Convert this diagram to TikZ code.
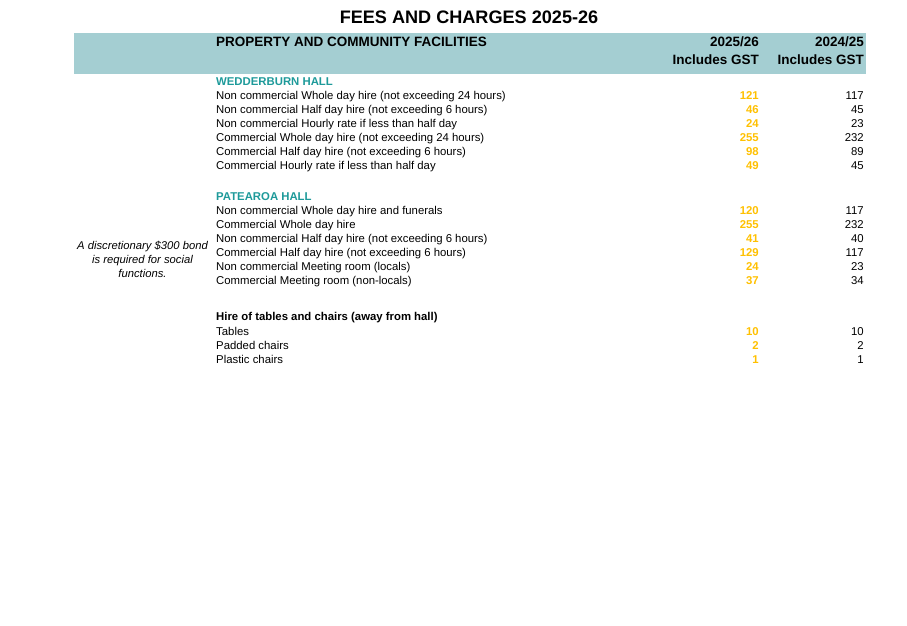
\documentclass[tikz,border=0pt]{standalone}
\usepackage{fontspec}
\setmainfont{Liberation Sans}
\usetikzlibrary{positioning}
\definecolor{bandblue}{HTML}{A4CED2}
\definecolor{hallteal}{HTML}{1E9A9A}
\definecolor{feeyellow}{HTML}{FFC000}

\begin{document}
\begin{tikzpicture}
		[x=1pt,y=-1pt,
		txt/.style ={inner sep=0pt, anchor=base west, font=\fontsize{11.35}{14}\selectfont},
		title/.style ={inner sep=0pt, anchor=base, font=\fontsize{18.1}{22}\selectfont\bfseries},
		head/.style ={txt, font=\fontsize{13.5}{16}\selectfont\bfseries},
		headr/.style ={head, anchor=base east},
		band/.style ={rectangle, fill=bandblue, inner sep=0pt, anchor=north west, minimum width=792pt, minimum height=41pt},
		hall/.style ={txt, font=\fontsize{11.35}{14}\selectfont\bfseries, text=hallteal},
		group/.style ={txt, font=\fontsize{11.35}{14}\selectfont\bfseries},
		new/.style ={txt, anchor=base east, font=\fontsize{11.35}{14}\selectfont\bfseries, text=feeyellow},
		old/.style ={txt, anchor=base east},
		note/.style ={inner sep=0pt, align=center, font=\fontsize{11.25}{14.2}\selectfont\itshape},
		]
		\useasboundingbox (0,0) rectangle (907,626);

		\draw (469,24) node[title] (Title) {FEES AND CHARGES 2025-26};
		\draw (74,33) node[band] (Band) {};
		\draw (216,47) node[head] (Property) {PROPERTY AND COMMUNITY FACILITIES};
		\draw (759,47) node[headr] (YearNew) {2025/26};
		\draw (759,64) node[headr] (GstNew) {Includes GST};
		\draw (864,47) node[headr] (YearOld) {2024/25};
		\draw (864,64) node[headr] (GstOld) {Includes GST};

		% Wedderburn Hall
		\draw (216,85) node[hall] (Wedderburn) {WEDDERBURN HALL};
		\draw (216,99.3) node[txt] (w-nc-whole) {Non commercial Whole day hire (not exceeding 24 hours)};
		\draw (216,113.3) node[txt] (w-nc-half) {Non commercial Half day hire (not exceeding 6 hours)};
		\draw (216,127.3) node[txt] (w-nc-hour) {Non commercial Hourly rate if less than half day};
		\draw (216,141.2) node[txt] (w-c-whole) {Commercial Whole day hire (not exceeding 24 hours)};
		\draw (216,155.2) node[txt] (w-c-half) {Commercial Half day hire (not exceeding 6 hours)};
		\draw (216,169.1) node[txt] (w-c-hour) {Commercial Hourly rate if less than half day};

		\draw (759,99.3) node[new] {121};
		\draw (759,113.3) node[new] {46};
		\draw (759,127.3) node[new] {24};
		\draw (759,141.2) node[new] {255};
		\draw (759,155.2) node[new] {98};
		\draw (759,169.1) node[new] {49};
		\draw (864,99.3) node[old] {117};
		\draw (864,113.3) node[old] {45};
		\draw (864,127.3) node[old] {23};
		\draw (864,141.2) node[old] {232};
		\draw (864,155.2) node[old] {89};
		\draw (864,169.1) node[old] {45};

		% Patearoa Hall
		\draw (216,200) node[hall] (Patearoa) {PATEAROA HALL};
		\draw (216,214.2) node[txt] (p-nc-whole) {Non commercial Whole day hire and funerals};
		\draw (216,228.1) node[txt] (p-c-whole) {Commercial Whole day hire};
		\draw (216,242.1) node[txt] (p-nc-half) {Non commercial Half day hire (not exceeding 6 hours)};
		\draw (216,256) node[txt] (p-c-half) {Commercial Half day hire (not exceeding 6 hours)};
		\draw (216,270) node[txt] (p-nc-room) {Non commercial Meeting room (locals)};
		\draw (216,284) node[txt] (p-c-room) {Commercial Meeting room (non-locals)};

		\draw (759,214.2) node[new] {120};
		\draw (759,228.1) node[new] {255};
		\draw (759,242.1) node[new] {41};
		\draw (759,256) node[new] {129};
		\draw (759,270) node[new] {24};
		\draw (759,284) node[new] {37};
		\draw (864,214.2) node[old] {117};
		\draw (864,228.1) node[old] {232};
		\draw (864,242.1) node[old] {40};
		\draw (864,256) node[old] {117};
		\draw (864,270) node[old] {23};
		\draw (864,284) node[old] {34};

		\draw (142.5,259.5) node[note] (Bond) {A discretionary \$300 bond\\is required for social\\functions.};

		% Tables and chairs
		\draw (216,320.7) node[group] (Hire) {Hire of tables and chairs (away from hall)};
		\draw (216,335.7) node[txt] (tables) {Tables};
		\draw (216,349.7) node[txt] (padded) {Padded chairs};
		\draw (216,363.7) node[txt] (plastic) {Plastic chairs};

		\draw (759,335.7) node[new] {10};
		\draw (759,349.7) node[new] {2};
		\draw (759,363.7) node[new] {1};
		\draw (864,335.7) node[old] {10};
		\draw (864,349.7) node[old] {2};
		\draw (864,363.7) node[old] {1};
	\end{tikzpicture}
\end{document}
